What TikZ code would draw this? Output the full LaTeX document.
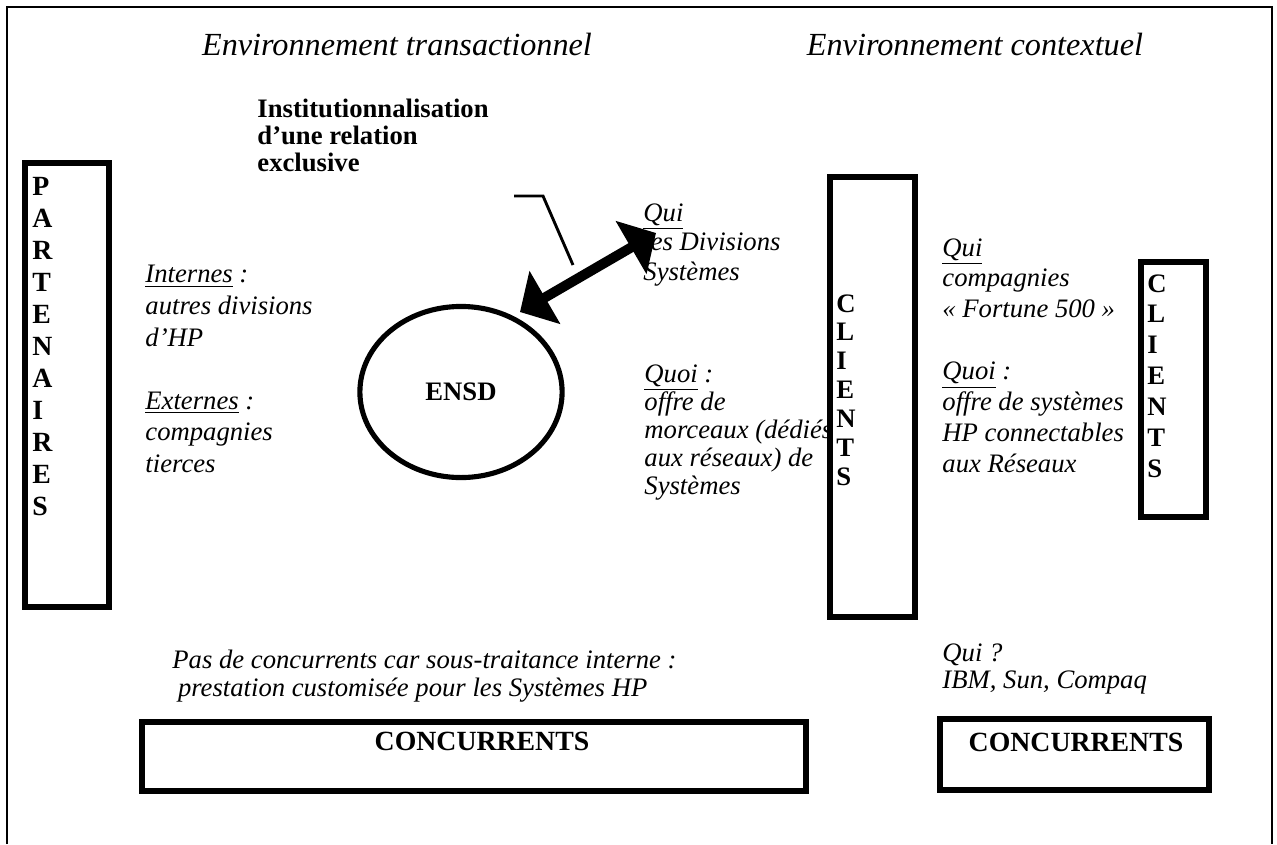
\documentclass[tikz,border=0pt]{standalone}
\usepackage{fontspec}
\setmainfont{Liberation Serif}
\usetikzlibrary{arrows.meta,shapes.geometric}
\begin{document}
\begin{tikzpicture}[x=0.45pt,y=-0.45pt,
  frame/.style={line width=0.9pt},
  box/.style={draw, line width=2.6pt},
  txt/.style={anchor=north west, inner sep=0pt, align=left, font=\fontsize{12}{13.9}\selectfont\itshape},
  lefttxt/.style={txt, font=\fontsize{12}{14.2}\selectfont\itshape},
  midtxt/.style={txt, font=\fontsize{12}{13.3}\selectfont\itshape},
  quoitxt/.style={txt, font=\fontsize{12}{12.7}\selectfont\itshape},
  vert/.style={anchor=north west, inner sep=0pt, align=left, font=\fontsize{12.5}{14.4}\selectfont\bfseries},
  vertb/.style={vert, font=\fontsize{12}{13}\selectfont\bfseries},
  vertc/.style={vert, font=\fontsize{12}{13.9}\selectfont\bfseries},
  title/.style={anchor=base, inner sep=0pt, font=\fontsize{14.5}{18}\selectfont\itshape},
  boldtxt/.style={anchor=north west, inner sep=0pt, align=left, font=\fontsize{12}{12}\selectfont\bfseries},
  conc/.style={inner sep=0pt, font=\fontsize{12.5}{14}\selectfont\bfseries},
  bigarrow/.style={line width=4.5pt, {Triangle[width=27pt,length=13pt]}-{Triangle[width=27pt,length=13pt]}},
  callout/.style={line width=1.3pt}
]
\useasboundingbox (0,0) rectangle (1277,844);
% outer frame (open at the bottom)
\draw[frame] (7,844) -- (7,7) -- (1272,7) -- (1272,844);

% titles
\node[title] (t1) at (397,55) {Environnement transactionnel};
\node[title] (t2) at (975,55) {Environnement contextuel};

% institutionnalisation label
\node[boldtxt] (inst) at (257,99) {Institutionnalisation\\d’une relation\\exclusive};
\coordinate (c1) at (514,196);
\coordinate (c2) at (543,196);
\coordinate (c3) at (573,265);
\draw[callout] (c1) -- (c2) -- (c3);

% PARTENAIRES box
\draw[box] (25,163) rectangle (109,607);
\node[vert] (part) at (32,177) {P\\A\\R\\T\\E\\N\\A\\I\\R\\E\\S};

% left texts
\node[lefttxt] (intern) at (145,265) {\underline{Internes} :\\autres divisions\\d’HP\\[14.2pt]\underline{Externes} :\\compagnies\\tierces};

% ENSD
\node[draw, ellipse, line width=2.3pt, minimum width=91pt, minimum height=77pt, inner sep=0pt,
      font=\fontsize{12}{14}\selectfont\bfseries] (ensd) at (461,392) {ENSD};

% middle texts
\node[midtxt] (qui1) at (643,203) {\underline{Qui}\\les Divisions\\Systèmes};
\node[quoitxt] (quoi1) at (644,364) {\underline{Quoi} :\\offre de\\morceaux (dédiés\\aux réseaux) de\\Systèmes};

% double arrow
\coordinate (arrA) at (520,312);
\coordinate (arrB) at (656,233);
\draw[bigarrow] (arrA) -- (arrB);

% big CLIENTS box
\draw[box] (830,177) rectangle (915,617);
\node[vertb] (cli1) at (836,294) {C\\L\\I\\E\\N\\T\\S};

% right texts
\node[txt] (qui2) at (942,238) {\underline{Qui}\\compagnies\\«~Fortune 500~»\\[13.9pt]\underline{Quoi} :\\offre de systèmes\\HP connectables\\aux Réseaux};

% small CLIENTS box
\draw[box] (1141,262) rectangle (1206,517);
\node[vertc] (cli2) at (1147,274) {C\\L\\I\\E\\N\\T\\S};

% bottom texts
\node[txt, font=\fontsize{12}{12.2}\selectfont\itshape] (pas) at (172,650) {Pas de concurrents car sous-traitance interne :\\\hspace*{2.5pt}prestation customisée pour les Systèmes HP};
\node[txt, font=\fontsize{12}{12.2}\selectfont\itshape] (qui3) at (942,643) {Qui ?\\IBM, Sun, Compaq};

% CONCURRENTS boxes
\draw[box] (142,722) rectangle (806,791);
\node[conc] (conc1) at (482,741) {CONCURRENTS};
\draw[box] (940,719) rectangle (1209,790);
\node[conc] (conc2) at (1076,742) {CONCURRENTS};
\end{tikzpicture}
\end{document}
